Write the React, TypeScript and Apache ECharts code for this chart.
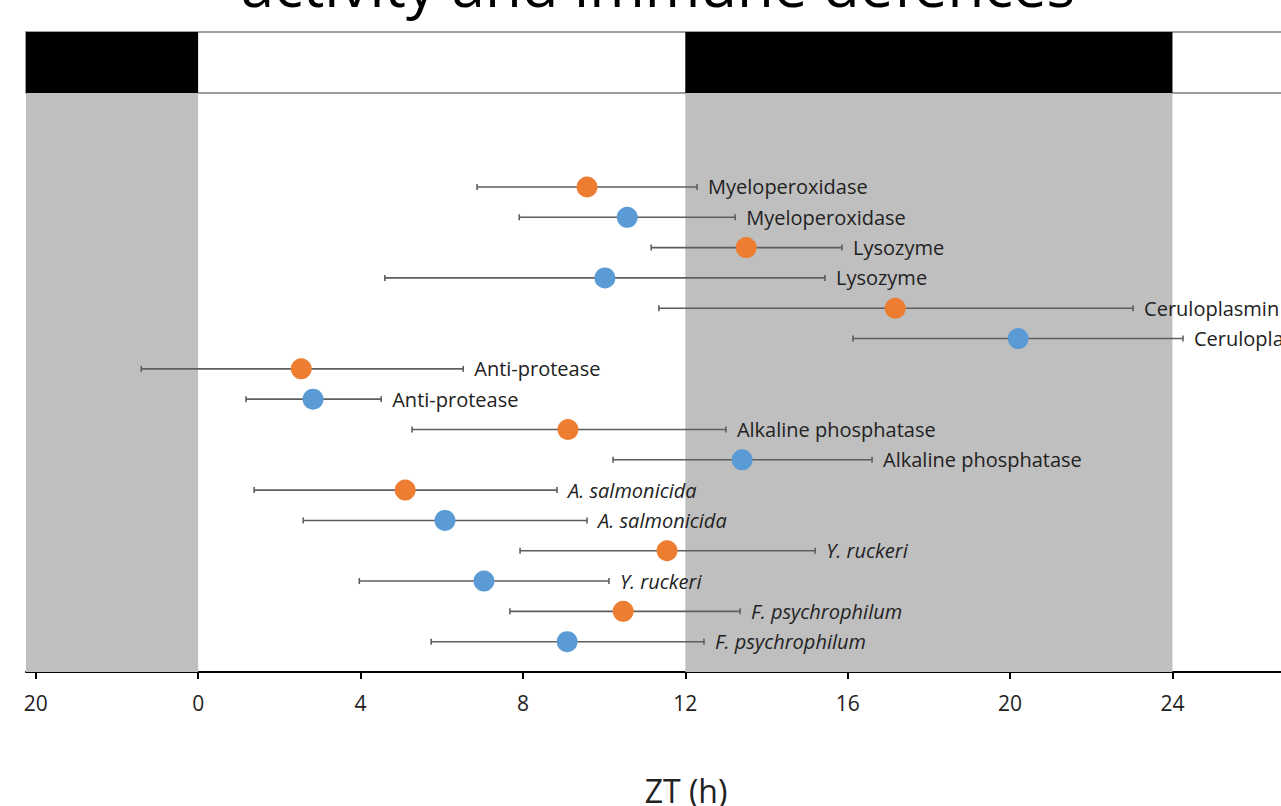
import React, { useEffect, useRef } from "react";
import * as echarts from "echarts";

// ---- data ----
const variables = [
  "Myeloperoxidase",
  "Lysozyme",
  "Ceruloplasmin",
  "Anti-protease",
  "Alkaline phosphatase",
  "A. salmonicida",
  "Y. ruckeri",
  "F. psychrophilum",
];
const italicVariables = [false, false, false, false, false, true, true, true];

// orange group (upper row of each pair)
const orangeAcrophase = [9.58, 13.5, 17.17, 2.54, 9.11, 5.1, 11.55, 10.47];
const orangeLow = [6.87, 11.16, 11.35, -1.4, 5.27, 1.38, 7.93, 7.68];
const orangeHigh = [12.29, 15.86, 23.03, 6.53, 13.0, 8.84, 15.2, 13.35];

// blue group (lower row of each pair)
const blueAcrophase = [10.57, 10.02, 20.2, 2.83, 13.4, 6.08, 7.04, 9.09];
const blueLow = [7.91, 4.6, 16.13, 1.18, 10.22, 2.59, 3.97, 5.74];
const blueHigh = [13.23, 15.44, 24.26, 4.51, 16.6, 9.58, 10.12, 12.46];

// dark phases (ZT h)
const darkStart = [-6, 12];
const darkEnd = [0, 24];

// x axis ticks
const tickValues = [-4, 0, 4, 8, 12, 16, 20, 24];
const tickLabels = ["20", "0", "4", "8", "12", "16", "20", "24"];

const titleText = "activity and immune defences";
const axisTitle = "ZT (h)";

const ORANGE = "#ED7D31";
const BLUE = "#5B9BD5";
const FONT = "Open Sans";

export default function App() {
  const ref = useRef<HTMLDivElement>(null);

  useEffect(() => {
    if (!ref.current) return;
    const chart = echarts.init(ref.current, undefined, { renderer: "svg" });

    const xMin = -4.24;
    const xMax = 26.92;

    const orangeRows = variables.map((_, k) => 2 * k + 1);
    const blueRows = variables.map((_, k) => 2 * k + 2);

    const errData: any[] = [];
    variables.forEach((_, k) => {
      errData.push([orangeRows[k], orangeLow[k], orangeHigh[k], k]);
      errData.push([blueRows[k], blueLow[k], blueHigh[k], k]);
    });

    const bandData = darkStart.map((s, i) => [s, darkEnd[i], 0.5]);

    const bandRender = (fill: string) => (params: any, api: any) => {
      const cs = params.coordSys;
      const s = api.coord([api.value(0), 0.5])[0];
      const e = api.coord([api.value(1), 0.5])[0];
      const x0 = Math.max(s, cs.x);
      const x1 = Math.min(e, cs.x + cs.width);
      return {
        type: "rect",
        shape: { x: x0, y: cs.y, width: Math.max(0, x1 - x0), height: cs.height },
        style: { fill },
      };
    };

    const errRender = (params: any, api: any) => {
      const row = api.value(0);
      const lo = api.value(1);
      const hi = api.value(2);
      const k = api.value(3);
      const a = api.coord([lo, row]);
      const b = api.coord([hi, row]);
      const cap = 3;
      const st = { stroke: "#5e5e5e", lineWidth: 1.6 };
      return {
        type: "group",
        children: [
          { type: "line", shape: { x1: a[0], y1: a[1], x2: b[0], y2: b[1] }, style: st },
          { type: "line", shape: { x1: a[0], y1: a[1] - cap, x2: a[0], y2: a[1] + cap }, style: st },
          { type: "line", shape: { x1: b[0], y1: b[1] - cap, x2: b[0], y2: b[1] + cap }, style: st },
          {
            type: "text",
            x: b[0] + 11,
            y: b[1],
            style: {
              text: variables[k],
              fontSize: 20,
              fontFamily: FONT,
              fontStyle: italicVariables[k] ? "italic" : "normal",
              fill: "#222222",
              align: "left",
              verticalAlign: "middle",
            },
          },
        ],
      };
    };

    const option: any = {
      animation: false,
      backgroundColor: "#ffffff",
      grid: [
        { left: 26, right: -10, top: 93, height: 579, outerBoundsMode: "none", containLabel: false },
        {
          left: 26,
          right: -10,
          top: 32,
          height: 61,
          show: true,
          borderColor: "#7f7f7f",
          borderWidth: 1.5,
          backgroundColor: "#ffffff",
          outerBoundsMode: "none",
          containLabel: false,
        },
      ],
      xAxis: [
        {
          type: "value",
          gridIndex: 0,
          min: xMin,
          max: xMax,
          splitLine: { show: false },
          axisLine: { show: true, onZero: false, lineStyle: { color: "#000", width: 2 } },
          axisTick: {
            show: true,
            length: 7,
            lineStyle: { color: "#000", width: 2 },
            customValues: tickValues,
          },
          axisLabel: {
            show: true,
            customValues: tickValues,
            formatter: (v: number) => {
              const i = tickValues.indexOf(v);
              return i >= 0 ? tickLabels[i] : "";
            },
            fontSize: 21,
            fontFamily: FONT,
            color: "#222222",
            margin: 20,
            showMinLabel: true,
            showMaxLabel: true,
          },
        },
        {
          type: "value",
          gridIndex: 1,
          min: xMin,
          max: xMax,
          show: false,
        },
      ],
      yAxis: [
        {
          type: "value",
          gridIndex: 0,
          min: -2.1,
          max: 17,
          inverse: true,
          show: false,
        },
        {
          type: "value",
          gridIndex: 1,
          min: 0,
          max: 1,
          show: false,
        },
      ],
      graphic: [
        {
          type: "text",
          x: 658,
          y: -16,
          style: {
            text: titleText,
            fontSize: 60,
            fontFamily: FONT,
            fill: "#000000",
            align: "center",
            verticalAlign: "middle",
          },
        },
        {
          type: "text",
          x: 686,
          y: 790,
          style: {
            text: axisTitle,
            fontSize: 32,
            fontFamily: FONT,
            fill: "#222222",
            align: "center",
            verticalAlign: "middle",
          },
        },
      ],
      series: [
        {
          type: "custom",
          name: "lightPeriodBands",
          xAxisIndex: 0,
          yAxisIndex: 0,
          renderItem: bandRender("#BFBFBF"),
          data: bandData,
          encode: { x: [0, 1], y: 2 },
          silent: true,
          z: 1,
        },
        {
          type: "custom",
          name: "darkBar",
          xAxisIndex: 1,
          yAxisIndex: 1,
          renderItem: bandRender("#000000"),
          data: bandData,
          encode: { x: [0, 1], y: 2 },
          silent: true,
          z: 1,
        },
        {
          type: "custom",
          name: "errors",
          xAxisIndex: 0,
          yAxisIndex: 0,
          renderItem: errRender,
          data: errData,
          encode: { x: [1, 2], y: 0 },
          silent: true,
          z: 2,
        },
        {
          type: "scatter",
          name: "orange",
          xAxisIndex: 0,
          yAxisIndex: 0,
          symbol: "circle",
          symbolSize: 21,
          itemStyle: { color: ORANGE, opacity: 1 },
          data: orangeAcrophase.map((v, k) => [v, orangeRows[k]]),
          z: 3,
        },
        {
          type: "scatter",
          name: "blue",
          xAxisIndex: 0,
          yAxisIndex: 0,
          symbol: "circle",
          symbolSize: 21,
          itemStyle: { color: BLUE, opacity: 1 },
          data: blueAcrophase.map((v, k) => [v, blueRows[k]]),
          z: 3,
        },
      ],
    };

    chart.setOption(option);
    return () => chart.dispose();
  }, []);

  return (
    <div
      ref={ref}
      style={{ position: "absolute", left: 0, top: 0, width: 1281, height: 806 }}
    />
  );
}
